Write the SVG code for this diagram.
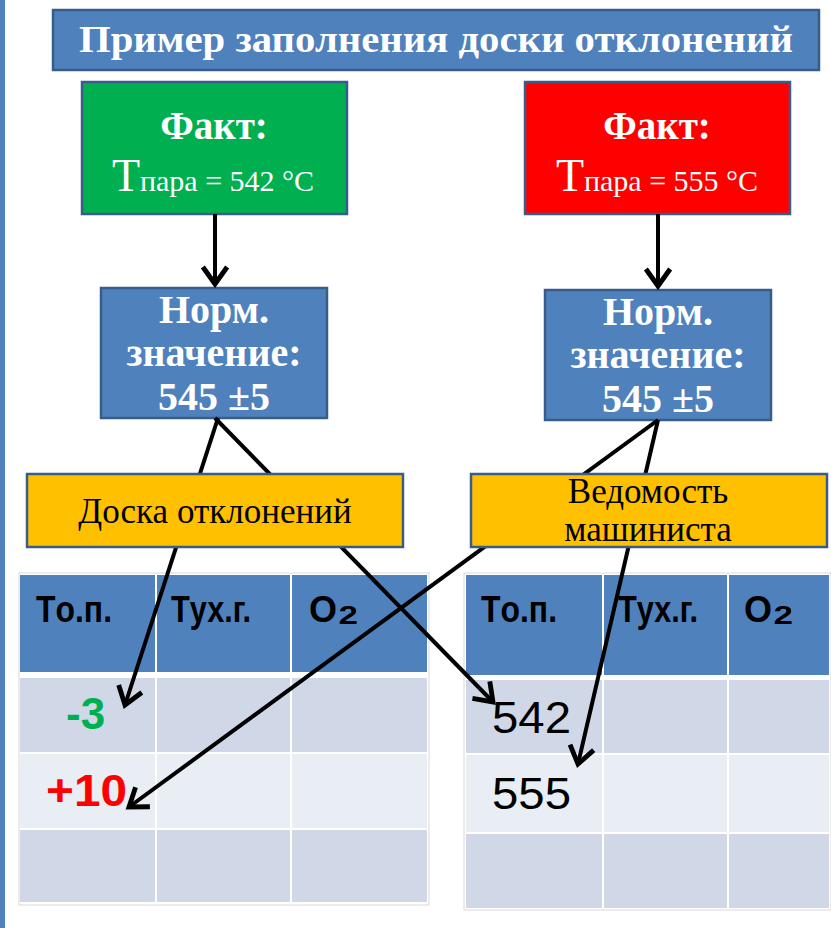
<svg xmlns="http://www.w3.org/2000/svg" width="831" height="928" viewBox="0 0 831 928">
<defs>
<marker id="ah" markerUnits="userSpaceOnUse" markerWidth="34" markerHeight="34" refX="0" refY="0" viewBox="-18 -14 22 28" orient="auto">
<path d="M -14 -10 L 0 0 L -14 10" fill="none" stroke="#000" stroke-width="4" stroke-linejoin="miter"/>
</marker>
</defs>
<style>
.box{stroke:#385d8a;stroke-width:2.5}
.blue{fill:#4f81bd}
.org{fill:#ffc000}
.wt{fill:#fff;font-family:"Liberation Serif",serif;font-weight:bold;text-anchor:middle}
.fv{fill:#fff;font-family:"Liberation Serif",serif;text-anchor:middle;font-size:30px}
.ser{font-family:"Liberation Serif",serif;fill:#000;text-anchor:middle;font-size:35px}
.hd{font-family:"Liberation Sans",sans-serif;font-weight:bold;fill:#000;font-size:36px}
.num{font-family:"Liberation Sans",sans-serif;fill:#000;font-size:45px}
.big{font-family:"Liberation Sans",sans-serif;font-weight:bold;font-size:44px}
.conn{stroke:#000;stroke-width:4;fill:none}
.r1{fill:#d0d8e8}
.r2{fill:#e9edf4}
</style>
<rect x="0" y="0" width="5" height="928" fill="#4f81bd"/>
<g id="title">
<rect class="box blue" x="53" y="10" width="766" height="60"/>
<text class="wt" x="436" y="52" font-size="38" textLength="714" lengthAdjust="spacingAndGlyphs">Пример заполнения доски отклонений</text>
</g>
<g id="fact-left">
<rect class="box" fill="#00b050" x="82" y="82" width="265" height="132"/>
<text class="wt" x="214" y="139" font-size="39">Факт:</text>
<text class="fv" x="213" y="191"><tspan font-size="46">T</tspan>пара = 542 °C</text>
</g>
<g id="fact-right">
<rect class="box" fill="#ff0000" x="525" y="82" width="265" height="132"/>
<text class="wt" x="657" y="139" font-size="39">Факт:</text>
<text class="fv" x="657" y="191"><tspan font-size="46">T</tspan>пара = 555 °C</text>
</g>
<g id="norm-left">
<rect class="box blue" x="101" y="288" width="226" height="130"/>
<text class="wt" x="214" y="323" font-size="40">Норм.</text>
<text class="wt" x="214" y="366" font-size="40">значение:</text>
<text class="wt" x="214" y="410" font-size="40">545 ±5</text>
</g>
<g id="norm-right">
<rect class="box blue" x="545" y="290" width="226" height="130"/>
<text class="wt" x="658" y="325" font-size="40">Норм.</text>
<text class="wt" x="658" y="368" font-size="40">значение:</text>
<text class="wt" x="658" y="412" font-size="40">545 ±5</text>
</g>
<g id="table-left">
<rect x="19" y="573" width="410" height="332" fill="#fff" stroke="#d9d9d9" stroke-width="1"/>
<rect class="blue" x="20" y="575" width="135" height="97"/>
<rect class="blue" x="157" y="575" width="133" height="97"/>
<rect class="blue" x="292" y="575" width="135" height="97"/>
<rect class="r1" x="20" y="678" width="135" height="74"/>
<rect class="r1" x="157" y="678" width="133" height="74"/>
<rect class="r1" x="292" y="678" width="135" height="74"/>
<rect class="r2" x="20" y="754" width="135" height="74"/>
<rect class="r2" x="157" y="754" width="133" height="74"/>
<rect class="r2" x="292" y="754" width="135" height="74"/>
<rect class="r1" x="20" y="830" width="135" height="72"/>
<rect class="r1" x="157" y="830" width="133" height="72"/>
<rect class="r1" x="292" y="830" width="135" height="72"/>
<text class="hd" x="36" y="622" textLength="76" lengthAdjust="spacingAndGlyphs">Tо.п.</text>
<text class="hd" x="171" y="622" textLength="80" lengthAdjust="spacingAndGlyphs">Tух.г.</text>
<text class="hd" x="309" y="622">O<tspan font-size="50">₂</tspan></text>
<text class="big" x="66" y="729" fill="#00b050">-3</text>
<text class="big" x="46" y="806" fill="#ff0000" textLength="81" lengthAdjust="spacingAndGlyphs">+10</text>
</g>
<g id="table-right">
<rect x="464" y="573" width="367" height="337" fill="#fff" stroke="#d9d9d9" stroke-width="1"/>
<rect class="blue" x="466" y="575" width="136" height="100"/>
<rect class="blue" x="604" y="575" width="123" height="100"/>
<rect class="blue" x="729" y="575" width="100" height="100"/>
<rect class="r1" x="466" y="680" width="136" height="73"/>
<rect class="r1" x="604" y="680" width="123" height="73"/>
<rect class="r1" x="729" y="680" width="100" height="73"/>
<rect class="r2" x="466" y="755" width="136" height="77"/>
<rect class="r2" x="604" y="755" width="123" height="77"/>
<rect class="r2" x="729" y="755" width="100" height="77"/>
<rect class="r1" x="466" y="834" width="136" height="74"/>
<rect class="r1" x="604" y="834" width="123" height="74"/>
<rect class="r1" x="729" y="834" width="100" height="74"/>
<text class="hd" x="481" y="622" textLength="76" lengthAdjust="spacingAndGlyphs">Tо.п.</text>
<text class="hd" x="618" y="622" textLength="80" lengthAdjust="spacingAndGlyphs">Tух.г.</text>
<text class="hd" x="744" y="622">O<tspan font-size="50">₂</tspan></text>
<text class="num" x="492" y="733" textLength="79" lengthAdjust="spacingAndGlyphs">542</text>
<text class="num" x="492" y="809" textLength="79" lengthAdjust="spacingAndGlyphs">555</text>
</g>
<g id="connectors">
<line class="conn" x1="215" y1="214" x2="215" y2="284" marker-end="url(#ah)"/>
<line class="conn" x1="658" y1="214" x2="658" y2="286" marker-end="url(#ah)"/>
<line class="conn" x1="218" y1="418" x2="125" y2="705" marker-end="url(#ah)"/>
<line class="conn" x1="215" y1="418" x2="493" y2="702" marker-end="url(#ah)"/>
<line class="conn" x1="658" y1="420" x2="129" y2="807" marker-end="url(#ah)"/>
<line class="conn" x1="658" y1="420" x2="578" y2="764" marker-end="url(#ah)"/>
</g>
<g id="board-label">
<rect class="box org" x="27" y="474" width="376" height="73"/>
<text class="ser" x="215" y="523">Доска отклонений</text>
</g>
<g id="log-label">
<rect class="box org" x="471" y="474" width="356" height="73"/>
<text class="ser" x="648" y="503">Ведомость</text>
<text class="ser" x="648" y="541">машиниста</text>
</g>
</svg>
